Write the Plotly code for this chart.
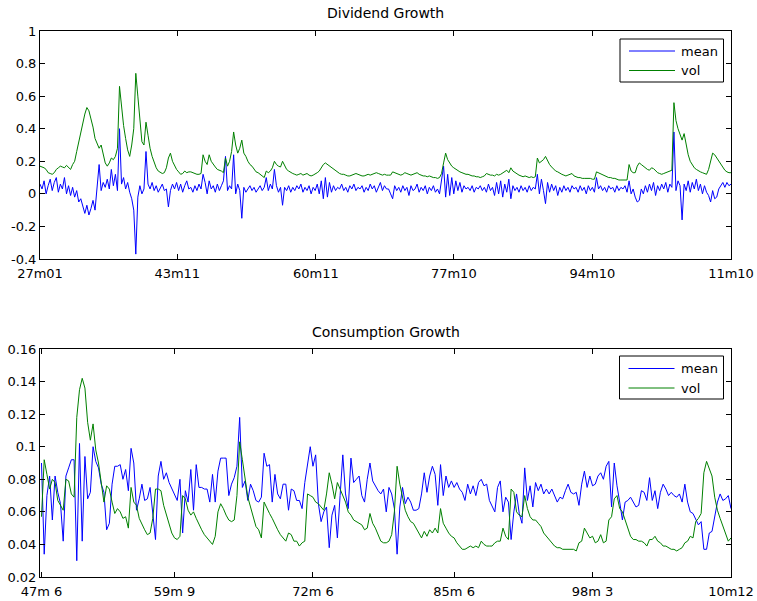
import plotly.graph_objects as go

# ---------------- Dividend growth (monthly, sampled every 3 months from 1927m01) -------------
div_vol = [
    0.17, 0.165, 0.16, 0.15, 0.13, 0.125, 0.12, 0.13, 0.15, 0.16,
    0.17, 0.165, 0.16, 0.175, 0.16, 0.15, 0.18, 0.2, 0.26, 0.32,
    0.36, 0.42, 0.49, 0.53, 0.51, 0.46, 0.41, 0.34, 0.31, 0.28,
    0.3, 0.24, 0.19, 0.17, 0.19, 0.22, 0.21, 0.23, 0.28, 0.66,
    0.52, 0.42, 0.34, 0.27, 0.23, 0.3, 0.4, 0.74, 0.6, 0.46,
    0.32, 0.3, 0.44, 0.36, 0.28, 0.23, 0.19, 0.16, 0.14, 0.13,
    0.125, 0.13, 0.16, 0.22, 0.25, 0.2, 0.17, 0.15, 0.135, 0.12,
    0.125, 0.14, 0.13, 0.135, 0.135, 0.13, 0.125, 0.12, 0.12, 0.125,
    0.24, 0.2, 0.18, 0.24, 0.2, 0.18, 0.165, 0.15, 0.145, 0.14,
    0.13, 0.22, 0.17, 0.2, 0.26, 0.38, 0.3, 0.25, 0.28, 0.33,
    0.25, 0.23, 0.2, 0.18, 0.17, 0.15, 0.135, 0.13, 0.12, 0.115,
    0.1, 0.14, 0.13, 0.14, 0.16, 0.2, 0.18, 0.17, 0.165, 0.2,
    0.17, 0.15, 0.14, 0.13, 0.125, 0.12, 0.115, 0.12, 0.125, 0.115,
    0.12, 0.125, 0.115, 0.11, 0.115, 0.12, 0.13, 0.14, 0.16, 0.18,
    0.19, 0.18, 0.17, 0.16, 0.15, 0.14, 0.13, 0.125, 0.12, 0.12,
    0.115, 0.11, 0.11, 0.115, 0.12, 0.125, 0.12, 0.115, 0.11, 0.11,
    0.115, 0.12, 0.115, 0.12, 0.125, 0.13, 0.125, 0.12, 0.115, 0.12,
    0.115, 0.115, 0.115, 0.135, 0.13, 0.125, 0.12, 0.115, 0.12, 0.13,
    0.125, 0.12, 0.115, 0.12, 0.125, 0.13, 0.12, 0.115, 0.11, 0.11,
    0.105, 0.11, 0.105, 0.1, 0.1, 0.095, 0.1, 0.125, 0.19, 0.25,
    0.21, 0.19, 0.17, 0.16, 0.15, 0.14, 0.135, 0.13, 0.125, 0.12,
    0.12, 0.115, 0.11, 0.11, 0.105, 0.105, 0.1, 0.105, 0.11, 0.125,
    0.12, 0.115, 0.115, 0.11, 0.12, 0.115, 0.12, 0.13, 0.14, 0.145,
    0.13, 0.16, 0.14, 0.13, 0.12, 0.115, 0.11, 0.105, 0.11, 0.105,
    0.1, 0.105, 0.1, 0.105, 0.22, 0.19, 0.2, 0.21, 0.23, 0.2,
    0.18, 0.165, 0.15, 0.14, 0.135, 0.125, 0.12, 0.115, 0.11, 0.115,
    0.12, 0.125, 0.11, 0.105, 0.1, 0.1, 0.095, 0.095, 0.095, 0.095,
    0.095, 0.09, 0.09, 0.135, 0.13, 0.12, 0.115, 0.11, 0.105, 0.1,
    0.1, 0.095, 0.095, 0.09, 0.085, 0.085, 0.085, 0.085, 0.085, 0.18,
    0.14, 0.13, 0.13, 0.17, 0.19, 0.18, 0.17, 0.155, 0.15, 0.145,
    0.16, 0.155, 0.14, 0.13, 0.125, 0.12, 0.125, 0.13, 0.135, 0.14,
    0.145, 0.56, 0.45, 0.4, 0.37, 0.33, 0.37, 0.3, 0.24, 0.2,
    0.18, 0.16, 0.15, 0.14, 0.135, 0.13, 0.125, 0.12, 0.15, 0.2,
    0.25, 0.24, 0.22, 0.2, 0.18, 0.16, 0.145, 0.135, 0.13, 0.13,
]

div_mean = [
    0.06, 0.03, 0.08, 0.0, 0.05, 0.09, 0.02, 0.07, 0.1, 0.01,
    0.06, 0.03, 0.1, 0.0, 0.05, -0.01, 0.04, -0.02, 0.02, -0.05,
    -0.03, -0.08, -0.12, -0.07, -0.13, -0.09, -0.04, -0.1, 0.03, 0.18,
    0.02, 0.07, 0.04, 0.09, 0.03, 0.15, 0.05, 0.12, 0.02, 0.4,
    0.06, 0.1, 0.03, 0.07, 0.01, -0.03, -0.1, -0.37, -0.02, 0.05,
    0.0, 0.03, 0.26, 0.06, 0.03, 0.07, 0.02, 0.05, 0.01, 0.04,
    0.06, 0.02, 0.03, -0.08, 0.02, 0.06, 0.03, 0.07, 0.02, 0.06,
    0.01, 0.05, 0.08, 0.03, 0.04, 0.01, 0.05, 0.02, 0.06, 0.03,
    0.12, 0.07, 0.0, 0.08, 0.03, 0.05, 0.01, 0.06, 0.02, 0.05,
    0.08, 0.23, 0.02, 0.05, 0.03, 0.24, 0.0, 0.06, 0.02, -0.15,
    0.04, 0.01, 0.03, 0.05, 0.02, 0.04, 0.01, 0.03, 0.05, 0.02,
    0.04, 0.1, 0.02, 0.06, 0.03, 0.15, 0.05, 0.01, 0.04, -0.07,
    0.04, 0.02, 0.05, 0.01, 0.04, 0.02, 0.05, 0.03, 0.06, 0.01,
    0.04, 0.02, 0.05, 0.0, 0.04, 0.02, 0.06, 0.0, 0.08, -0.03,
    0.1, -0.02, 0.07, 0.01, 0.05, 0.02, 0.04, 0.03, 0.06, 0.02,
    0.04, 0.01, 0.05, 0.03, 0.06, 0.02, 0.04, 0.03, 0.05, 0.01,
    0.04, 0.02, 0.06, 0.03, 0.05, 0.01, 0.04, 0.07, 0.02, 0.05,
    0.03, 0.03, 0.0, -0.03, 0.05, 0.02, 0.04, 0.01, 0.05, 0.02,
    0.04, -0.01, 0.05, 0.02, 0.03, 0.06, 0.01, 0.04, 0.02, 0.05,
    0.0, 0.04, 0.02, 0.05, 0.01, 0.03, 0.0, 0.09, 0.17, -0.02,
    0.12, -0.01, 0.1, 0.0, 0.08, 0.02, 0.07, 0.01, 0.05, 0.03,
    0.04, 0.02, 0.05, 0.01, 0.04, 0.03, 0.05, 0.02, 0.04, 0.01,
    0.06, 0.02, 0.04, -0.01, 0.07, 0.0, 0.08, -0.02, 0.06, 0.01,
    0.09, -0.03, 0.05, 0.02, 0.04, 0.01, 0.05, 0.02, 0.04, 0.01,
    0.05, 0.02, 0.04, 0.03, 0.12, 0.0, 0.09, 0.02, -0.06, 0.07,
    0.01, 0.06, 0.02, 0.05, -0.01, 0.04, 0.01, 0.05, 0.02, 0.04,
    0.01, 0.05, 0.03, 0.04, 0.01, 0.05, 0.02, 0.04, 0.0, 0.05,
    0.02, 0.04, 0.01, 0.1, 0.03, 0.05, 0.02, 0.04, 0.01, 0.05,
    0.03, 0.04, 0.01, 0.05, 0.02, 0.04, 0.03, 0.05, 0.01, 0.08,
    0.0, 0.03, -0.02, -0.05, -0.04, 0.03, 0.0, 0.05, 0.01, 0.06,
    0.02, 0.07, -0.01, 0.05, 0.02, 0.06, 0.03, 0.07, 0.01, 0.06,
    0.04, 0.38, 0.02, 0.08, 0.05, -0.16, 0.06, 0.02, 0.08, 0.01,
    0.07, 0.03, 0.09, 0.02, 0.06, 0.0, 0.05, 0.01, -0.01, -0.05,
    0.02, -0.03, -0.02, 0.03, 0.05, 0.07, 0.04, 0.07, 0.05, 0.06,
]
div_step_months = 3
div_tick_pos = [0, 202, 406, 609, 813, 1017]
div_tick_lab = ["27m01", "43m11", "60m11", "77m10", "94m10", "11m10"]
div_y_ticks = [-0.4, -0.2, 0, 0.2, 0.4, 0.6, 0.8, 1]
div_y_lab = ["-0.4", "-0.2", "0", "0.2", "0.4", "0.6", "0.8", "1"]

# ---------------- Consumption growth (quarterly from 1947m6) ----------------
cons_mean = [
    0.09, 0.034, 0.07, 0.082, 0.055, 0.082, 0.072, 0.065, 0.042, 0.082,
    0.087, 0.092, 0.092, 0.03, 0.102, 0.042, 0.094, 0.068, 0.072, 0.1,
    0.091, 0.087, 0.077, 0.072, 0.049, 0.053, 0.077, 0.088, 0.088, 0.089,
    0.08, 0.086, 0.073, 0.099, 0.09, 0.061, 0.068, 0.077, 0.067, 0.068,
    0.075, 0.06, 0.043, 0.082, 0.091, 0.08, 0.084, 0.078, 0.074, 0.071,
    0.067, 0.08, 0.047, 0.073, 0.066, 0.086, 0.061, 0.089, 0.075, 0.075,
    0.074, 0.074, 0.066, 0.083, 0.066, 0.085, 0.093, 0.093, 0.093, 0.07,
    0.077, 0.081, 0.088, 0.118, 0.075, 0.079, 0.067, 0.077, 0.073, 0.067,
    0.066, 0.069, 0.096, 0.088, 0.089, 0.066, 0.083, 0.071, 0.068, 0.077,
    0.077, 0.061, 0.074, 0.073, 0.067, 0.067, 0.062, 0.078, 0.09, 0.1,
    0.088, 0.095, 0.065, 0.054, 0.06, 0.063, 0.038, 0.058, 0.064, 0.044,
    0.07, 0.095, 0.071, 0.062, 0.093, 0.078, 0.08, 0.082, 0.07, 0.066,
    0.08, 0.09, 0.079, 0.076, 0.073, 0.071, 0.074, 0.06, 0.075, 0.071,
    0.062, 0.034, 0.063, 0.075, 0.065, 0.069, 0.066, 0.061, 0.061, 0.062,
    0.071, 0.084, 0.072, 0.082, 0.088, 0.083, 0.064, 0.089, 0.07, 0.082,
    0.075, 0.079, 0.075, 0.078, 0.074, 0.072, 0.067, 0.077, 0.071, 0.076,
    0.07, 0.078, 0.08, 0.076, 0.077, 0.067, 0.063, 0.06, 0.075, 0.079,
    0.06, 0.069, 0.066, 0.043, 0.06, 0.071, 0.059, 0.053, 0.087, 0.067,
    0.076, 0.063, 0.078, 0.073, 0.077, 0.071, 0.074, 0.071, 0.074, 0.07,
    0.066, 0.069, 0.068, 0.073, 0.077, 0.072, 0.071, 0.072, 0.064, 0.077,
    0.085, 0.075, 0.082, 0.076, 0.077, 0.082, 0.084, 0.08, 0.088, 0.091,
    0.063, 0.09, 0.076, 0.066, 0.055, 0.066, 0.067, 0.069, 0.066, 0.063,
    0.064, 0.073, 0.072, 0.067, 0.081, 0.067, 0.073, 0.062, 0.072, 0.077,
    0.074, 0.07, 0.072, 0.07, 0.069, 0.071, 0.066, 0.077, 0.066, 0.06,
    0.059, 0.055, 0.052, 0.054, 0.037, 0.037, 0.047, 0.048, 0.057, 0.066,
    0.071, 0.067, 0.068, 0.07, 0.062,
]

cons_vol = [
    0.057, 0.092, 0.083, 0.074, 0.08, 0.078, 0.067, 0.064, 0.061, 0.08,
    0.079, 0.071, 0.069, 0.118, 0.135, 0.142, 0.136, 0.115, 0.104, 0.114,
    0.098, 0.09, 0.079, 0.066, 0.076, 0.074, 0.066, 0.059, 0.062, 0.06,
    0.056, 0.057, 0.05, 0.075, 0.066, 0.064, 0.056, 0.052, 0.049, 0.046,
    0.047, 0.056, 0.074, 0.074, 0.073, 0.064, 0.058, 0.052, 0.047, 0.044,
    0.043, 0.045, 0.07, 0.068, 0.061, 0.058, 0.06, 0.056, 0.052, 0.049,
    0.046, 0.044, 0.042, 0.04, 0.045, 0.06, 0.065, 0.062, 0.058, 0.055,
    0.054, 0.055, 0.07, 0.103, 0.092, 0.08, 0.069, 0.063, 0.057, 0.051,
    0.049, 0.044, 0.066, 0.062, 0.059, 0.056, 0.052, 0.049, 0.046, 0.044,
    0.042, 0.047, 0.046, 0.042, 0.042, 0.039, 0.041, 0.042, 0.071, 0.07,
    0.069, 0.066, 0.065, 0.063, 0.061, 0.071, 0.084, 0.077, 0.068, 0.078,
    0.074, 0.07, 0.066, 0.06, 0.058, 0.055, 0.054, 0.053, 0.052, 0.049,
    0.05, 0.059, 0.053, 0.05, 0.046, 0.042, 0.041, 0.041, 0.042, 0.046,
    0.06, 0.088, 0.077, 0.069, 0.061, 0.057, 0.054, 0.053, 0.05, 0.047,
    0.044, 0.048, 0.045, 0.049, 0.047, 0.05, 0.047, 0.062, 0.053, 0.05,
    0.047, 0.045, 0.044, 0.041, 0.039, 0.037, 0.037, 0.038, 0.039, 0.038,
    0.039, 0.038, 0.042, 0.04, 0.039, 0.039, 0.039, 0.041, 0.042, 0.042,
    0.05, 0.045, 0.043, 0.074, 0.072, 0.06, 0.058, 0.057, 0.07, 0.062,
    0.057, 0.055, 0.055, 0.053, 0.051, 0.047, 0.045, 0.043, 0.041, 0.039,
    0.038, 0.038, 0.037, 0.037, 0.037, 0.037, 0.037, 0.036, 0.041, 0.042,
    0.05, 0.047, 0.044, 0.045, 0.041, 0.042, 0.046, 0.041, 0.042, 0.055,
    0.057, 0.068, 0.07, 0.062, 0.06, 0.055, 0.05, 0.045, 0.043, 0.043,
    0.042, 0.042, 0.041, 0.039, 0.043, 0.043, 0.045, 0.042, 0.041, 0.039,
    0.039, 0.038, 0.037, 0.037, 0.036, 0.037, 0.038, 0.041, 0.042, 0.045,
    0.044, 0.054, 0.056, 0.059, 0.084, 0.091, 0.086, 0.082, 0.069, 0.061,
    0.056, 0.051, 0.047, 0.042, 0.044,
]
cons_tick_pos = [0, 49, 100, 152, 203, 254]
cons_tick_lab = ["47m 6", "59m 9", "72m 6", "85m 6", "98m 3", "10m12"]
cons_y_ticks = [0.02, 0.04, 0.06, 0.08, 0.10, 0.12, 0.14, 0.16]
cons_y_lab = ["0.02", "0.04", "0.06", "0.08", "0.1", "0.12", "0.14", "0.16"]

series_names = ["mean", "vol"]

div_x = [div_step_months * i for i in range(len(div_vol))]
cons_x = list(range(len(cons_mean)))

FONT = "DejaVu Sans"
BLUE = "#0000ff"
GREEN = "#008000"
COLORS = [BLUE, GREEN]
W, H = 757, 601

fig = go.Figure()
fig.add_trace(go.Scatter(x=div_x, y=div_mean, mode="lines", name=series_names[0], showlegend=False,
                         line=dict(color=BLUE, width=1), xaxis="x", yaxis="y"))
fig.add_trace(go.Scatter(x=div_x, y=div_vol, mode="lines", name=series_names[1], showlegend=False,
                         line=dict(color=GREEN, width=1), xaxis="x", yaxis="y"))
fig.add_trace(go.Scatter(x=cons_x, y=cons_mean, mode="lines", name=series_names[0], showlegend=False,
                         line=dict(color=BLUE, width=1), xaxis="x2", yaxis="y2"))
fig.add_trace(go.Scatter(x=cons_x, y=cons_vol, mode="lines", name=series_names[1], showlegend=False,
                         line=dict(color=GREEN, width=1), xaxis="x2", yaxis="y2"))

ax = dict(showline=True, linecolor="black", linewidth=1, mirror="ticks", ticks="inside",
          ticklen=5, tickwidth=1, tickcolor="black", showgrid=False, zeroline=False,
          automargin=False,
          tickfont=dict(family=FONT, size=13, color="black"), tickmode="array")


def px_x(v):
    return v / W


def px_y(v):
    return 1 - v / H


# MATLAB-style boxed legends (box left/top/right/bottom in pixels, entry rows)
shapes = []
annotations = []
for (bl, bt, br, bb, rows) in [(620, 39, 723.5, 82, (51, 70.5)), (619.5, 356, 723.5, 399, (368.5, 388))]:
    shapes.append(dict(type="rect", xref="paper", yref="paper", x0=px_x(bl), x1=px_x(br),
                       y0=px_y(bb), y1=px_y(bt), line=dict(color="black", width=1),
                       fillcolor="white", layer="above"))
    for name, col, ry in zip(series_names, COLORS, rows):
        shapes.append(dict(type="line", xref="paper", yref="paper", x0=px_x(bl + 9), x1=px_x(bl + 55),
                           y0=px_y(ry), y1=px_y(ry), line=dict(color=col, width=1), layer="above"))
        annotations.append(dict(text=name, x=px_x(bl + 59), y=px_y(ry), xref="paper", yref="paper",
                                xanchor="left", yanchor="middle", showarrow=False,
                                font=dict(family=FONT, size=13, color="black")))

annotations += [
    dict(text="Dividend Growth", x=385.5 / W, y=1 - 13.5 / H, xref="paper", yref="paper",
         xanchor="center", yanchor="middle", showarrow=False,
         font=dict(family=FONT, size=14, color="black")),
    dict(text="Consumption Growth", x=385.5 / W, y=1 - 331.5 / H, xref="paper", yref="paper",
         xanchor="center", yanchor="middle", showarrow=False,
         font=dict(family=FONT, size=14, color="black")),
]

xdom = [40 / W, 731 / W]
fig.update_layout(
    width=W, height=H, autosize=False,
    margin=dict(l=0, r=0, t=0, b=0, pad=0, autoexpand=False),
    paper_bgcolor="white", plot_bgcolor="white",
    font=dict(family=FONT, size=13, color="black"),
    xaxis=dict(ax, domain=xdom, range=[0, 1017], tickvals=div_tick_pos, ticktext=div_tick_lab,
               anchor="y", ticklabelstandoff=2),
    yaxis=dict(ax, domain=[1 - 259 / H, 1 - 31 / H], range=[-0.4, 1], tickvals=div_y_ticks,
               ticktext=div_y_lab, anchor="x"),
    xaxis2=dict(ax, domain=xdom, range=[-0.55, 254], tickvals=cons_tick_pos, ticktext=cons_tick_lab,
                anchor="y2", ticklabelstandoff=2),
    yaxis2=dict(ax, domain=[1 - 577 / H, 1 - 349 / H], range=[0.02, 0.16], tickvals=cons_y_ticks,
                ticktext=cons_y_lab, anchor="x2"),
    showlegend=False,
    shapes=shapes,
    annotations=annotations,
)

fig.write_html("out.html")
